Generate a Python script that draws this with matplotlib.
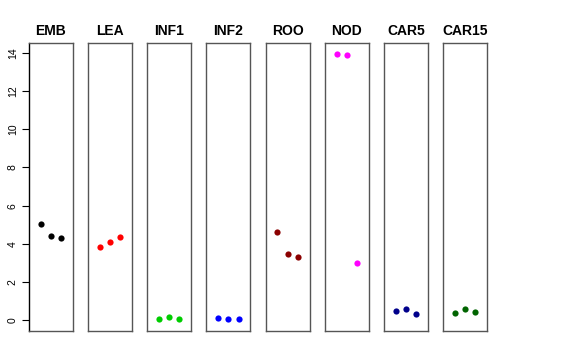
import matplotlib
matplotlib.use("Agg")
import matplotlib.pyplot as plt

plt.rcParams['font.family'] = ['Liberation Sans', 'DejaVu Sans']

# tissue panels and the three replicate values in each
tissues = ["EMB", "LEA", "INF1", "INF2", "ROO", "NOD", "CAR5", "CAR15"]
values = [
    [5.04, 4.39, 4.32],
    [3.84, 4.08, 4.34],
    [0.07, 0.16, 0.09],
    [0.12, 0.07, 0.05],
    [4.60, 3.45, 3.33],
    [13.95, 13.90, 3.01],
    [0.49, 0.61, 0.33],
    [0.37, 0.58, 0.43],
]
colors = ["black", "red", "#00CD00", "blue", "#8B0000", "magenta", "#00008B", "#006400"]
yticks = [0, 2, 4, 6, 8, 10, 12, 14]

W, H = 576, 360
fig = plt.figure(figsize=(W / 100, H / 100), dpi=100)

left0, step, pw = 29, 59.15, 44
top, bottom = 43, 331

for i, (name, vals, col) in enumerate(zip(tissues, values, colors)):
    x0 = left0 + i * step
    ax = fig.add_axes([x0 / W, 1 - bottom / H, pw / W, (bottom - top) / H])
    ax.scatter([1, 2, 3], vals, s=20, color=col, zorder=3, linewidths=0)
    ax.set_xlim(-0.16, 4.16)
    ax.set_ylim(-0.56, 14.51)
    ax.set_xticks([])
    for sp in ax.spines.values():
        sp.set_color("#555555")
        sp.set_linewidth(1)
    ax.set_title(name, fontsize=10, fontweight="bold", pad=6)
    if i == 0:
        ax.spines['left'].set_color("black")
        ax.set_yticks(yticks)
        ax.set_yticklabels([str(t) for t in yticks], rotation=90, va="center", fontsize=7.5)
        ax.tick_params(axis="y", length=5, pad=3, width=0.8)
    else:
        ax.set_yticks([])

fig.savefig("out.png", dpi=100)
